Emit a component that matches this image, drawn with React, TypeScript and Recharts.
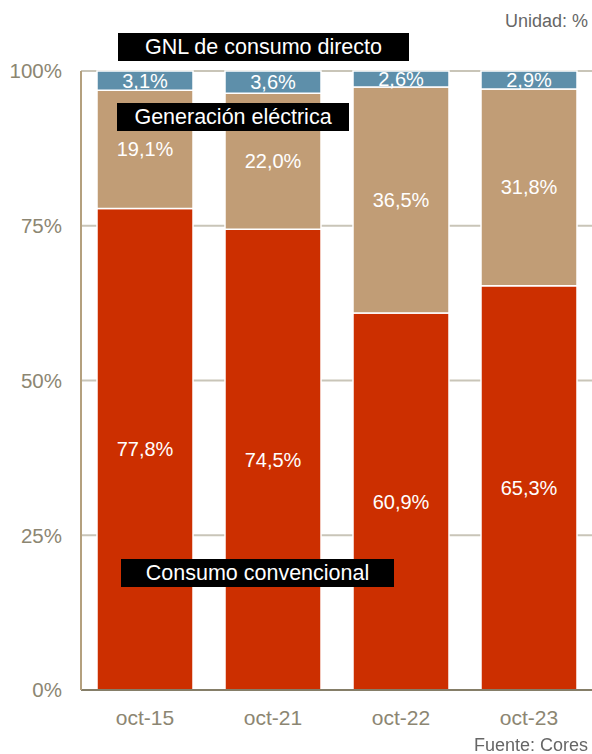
import React from 'react';
import { BarChart, Bar, XAxis, YAxis, CartesianGrid, LabelList } from 'recharts';

const periods = ['oct-15', 'oct-21', 'oct-22', 'oct-23'];
const convencional = [77.8, 74.5, 60.9, 65.3];
const electrica = [19.1, 22.0, 36.5, 31.8];
const gnlDirecto = [3.1, 3.6, 2.6, 2.9];
const yTicks = [0, 0.25, 0.5, 0.75, 1];

const data = periods.map((p, i) => ({
  period: p,
  convencional: convencional[i],
  electrica: electrica[i],
  gnl: gnlDirecto[i],
}));

const FONT = '"Liberation Sans", Arial, sans-serif';
const TICK = '#8c8672';

const fmtPct = (v: any) => `${Number(v).toFixed(1).replace('.', ',')}%`;

const Tag = ({ x, y, w, h, text }: { x: number; y: number; w: number; h: number; text: string }) => (
  <div
    style={{
      position: 'absolute',
      left: x,
      top: y,
      width: w,
      height: h,
      background: '#000',
      color: '#fff',
      fontSize: 21.5,
      fontFamily: FONT,
      lineHeight: `${h}px`,
      textAlign: 'center',
      whiteSpace: 'nowrap',
    }}
  >
    {text}
  </div>
);

export default function App() {
  const labelStyle = { fill: '#fff', fontSize: 20, fontFamily: FONT };
  return (
    <div style={{ position: 'fixed', left: 0, top: 0, width: 592, height: 754, background: '#fff', fontFamily: FONT }}>
      <BarChart
        width={592}
        height={754}
        data={data}
        stackOffset="expand"
        barCategoryGap="12.5%"
        margin={{ top: 71, right: -1, bottom: 34, left: 0 }}
      >
        <CartesianGrid vertical={false} stroke="#c9c5b8" strokeWidth={2} />
        <XAxis
          dataKey="period"
          tickLine={false}
          axisLine={{ stroke: '#857e68', strokeWidth: 2 }}
          tick={{ fill: TICK, fontSize: 21, fontFamily: FONT }}
          tickMargin={14}
          height={30}
        />
        <YAxis
          width={81}
          domain={[0, 1]}
          ticks={yTicks}
          tickLine={false}
          axisLine={{ stroke: '#b4a07e', strokeWidth: 2 }}
          tick={{ fill: TICK, fontSize: 20.5, fontFamily: FONT }}
          tickMargin={13}
          tickFormatter={(v) => `${Math.round(v * 100)}%`}
        />
        <Bar dataKey="convencional" stackId="a" fill="#cc2f00" stroke="#fff" strokeWidth={1.5} isAnimationActive={false}>
          <LabelList dataKey="convencional" position="center" formatter={fmtPct} style={labelStyle} />
        </Bar>
        <Bar dataKey="electrica" stackId="a" fill="#c19d76" stroke="#fff" strokeWidth={1.5} isAnimationActive={false}>
          <LabelList dataKey="electrica" position="center" formatter={fmtPct} style={labelStyle} />
        </Bar>
        <Bar dataKey="gnl" stackId="a" fill="#5e8faa" stroke="#fff" strokeWidth={1.5} isAnimationActive={false}>
          <LabelList dataKey="gnl" position="center" formatter={fmtPct} style={labelStyle} />
        </Bar>
      </BarChart>
      <div style={{ position: 'absolute', right: 4, top: 11, fontSize: 18, color: '#666' }}>Unidad: %</div>
      <div style={{ position: 'absolute', right: 4, top: 735, fontSize: 18, color: '#666' }}>Fuente: Cores</div>
      <Tag x={118} y={33} w={291} h={28} text="GNL de consumo directo" />
      <Tag x={117} y={103} w={232} h={28} text="Generación eléctrica" />
      <Tag x={121} y={559} w={273} h={28} text="Consumo convencional" />
    </div>
  );
}
